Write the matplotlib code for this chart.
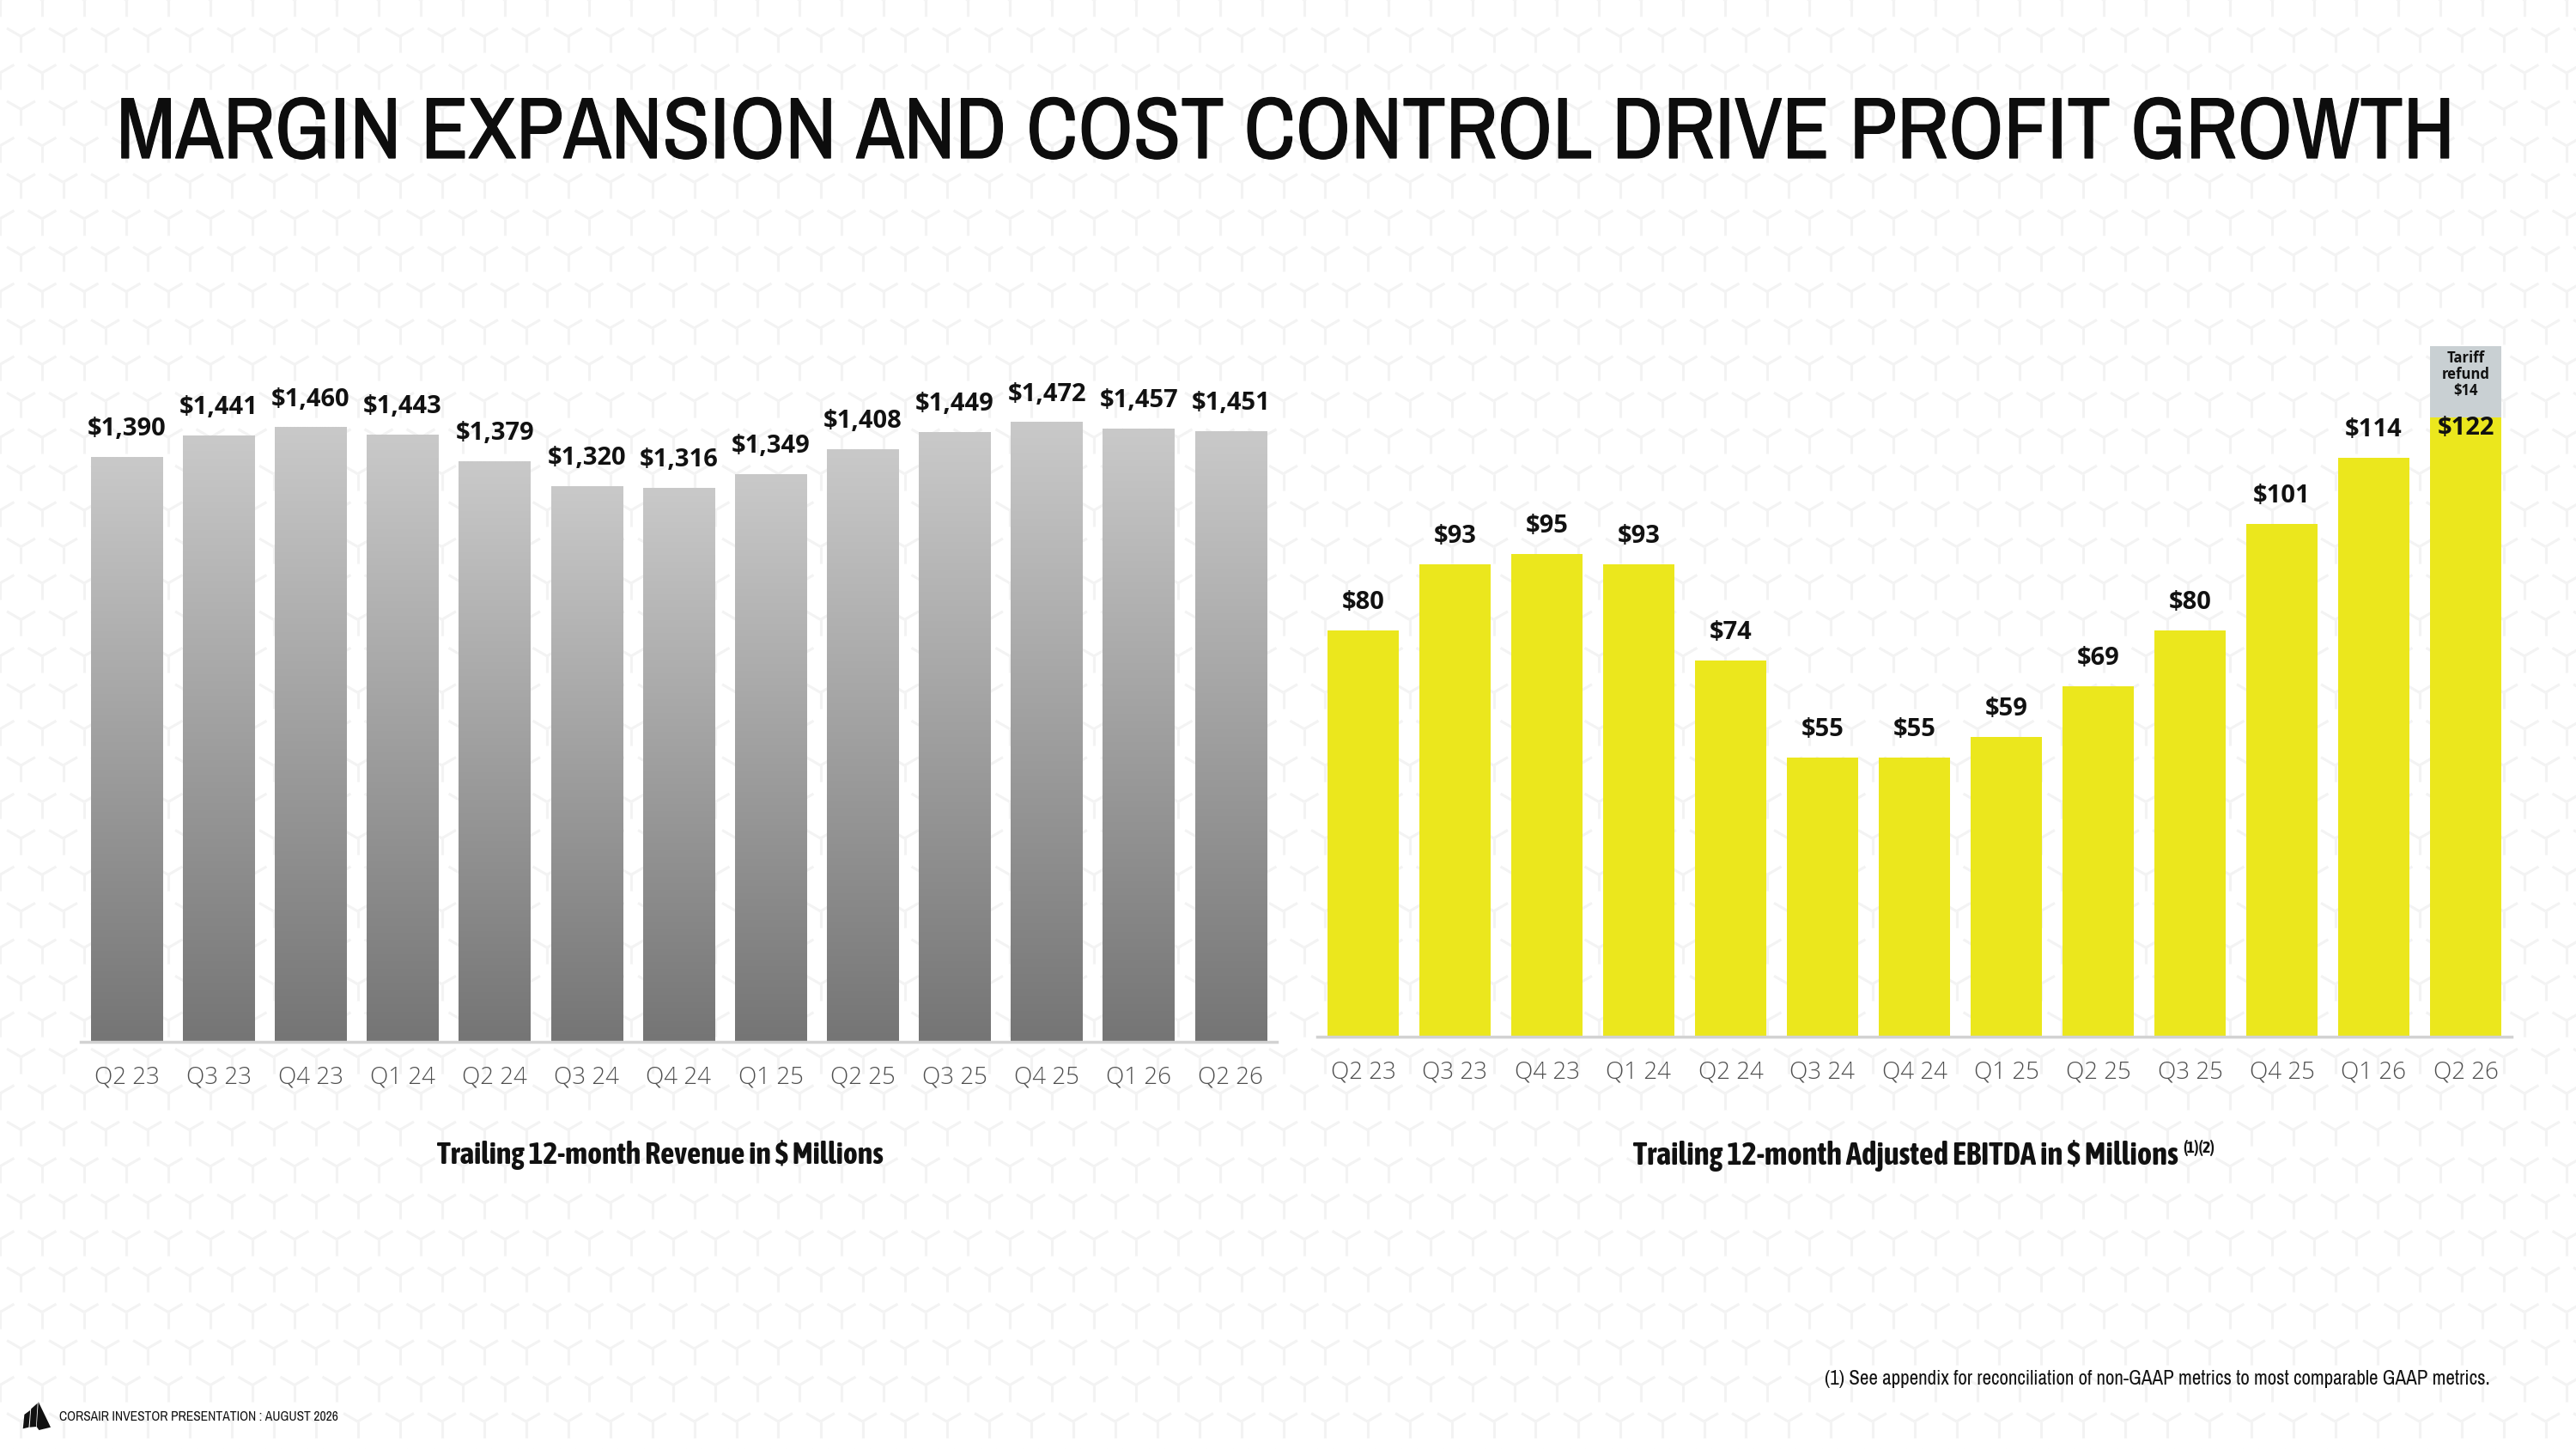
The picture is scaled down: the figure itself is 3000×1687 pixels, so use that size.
import numpy as np
import matplotlib
matplotlib.use("Agg")
import matplotlib.pyplot as plt
from matplotlib import font_manager as fm
from matplotlib import patheffects as pe
from matplotlib.colors import LinearSegmentedColormap
from matplotlib.patches import Polygon
from matplotlib.collections import LineCollection

# ---- data ----
quarters = ['Q2 23', 'Q3 23', 'Q4 23', 'Q1 24', 'Q2 24', 'Q3 24', 'Q4 24',
            'Q1 25', 'Q2 25', 'Q3 25', 'Q4 25', 'Q1 26', 'Q2 26']
revenue = [1390, 1441, 1460, 1443, 1379, 1320, 1316, 1349, 1408, 1449, 1472, 1457, 1451]
ebitda = [80, 93, 95, 93, 74, 55, 55, 59, 69, 80, 101, 114, 122]
tariff_refund = 14
tariff_quarter = 'Q2 26'

title = 'MARGIN EXPANSION AND COST CONTROL DRIVE PROFIT GROWTH'
rev_caption = 'Trailing 12-month Revenue in $ Millions'
ebitda_caption = 'Trailing 12-month Adjusted EBITDA in $ Millions'
ebitda_sup = '(1)(2)'
footnote = '(1) See appendix for reconciliation of non-GAAP metrics to most comparable GAAP metrics.'
footer = 'CORSAIR INVESTOR PRESENTATION : AUGUST 2026'

# ---- fonts ----
_wmap = {'thin': 100, 'extralight': 200, 'light': 300, 'normal': 400, 'regular': 400,
         'book': 400, 'medium': 500, 'semibold': 600, 'demibold': 600, 'bold': 700,
         'extrabold': 800, 'heavy': 800, 'black': 900}


def _w(w):
    if isinstance(w, str):
        return _wmap.get(w.lower().replace(' ', ''), 400)
    return int(w)


entries = fm.fontManager.ttflist
cond = [(f.name, _w(f.weight)) for f in entries
        if ('Condensed' in f.name or 'Narrow' in f.name) and f.style == 'normal']
cond.sort()
if cond:
    narrow = min(cond, key=lambda e: abs(e[1] - 400))[0]
    narrow_bold = min(cond, key=lambda e: abs(e[1] - 700))[0]
else:
    narrow = narrow_bold = 'Liberation Sans'
installed = {f.name for f in entries}
body = 'Open Sans' if 'Open Sans' in installed else 'DejaVu Sans'
plt.rcParams['font.family'] = [body, 'DejaVu Sans']

W, H = 3000, 1687
fig = plt.figure(figsize=(W / 100, H / 100), dpi=100)
fig.patch.set_facecolor('white')


def fx(px):
    return px / W


def fy(py):
    return 1 - py / H


def fit_width(t, width_px):
    # shrink/grow a text so it spans the same width as in the slide
    fig.canvas.draw()
    w = t.get_window_extent().width
    t.set_fontsize(t.get_fontsize() * width_px / w)


# faint Y pattern in the background
segs = []
dx = 49
dy = dx * np.sqrt(3) / 2
arm = 19
for j in range(int(H / dy) + 2):
    for i in range(int(W / dx) + 2):
        cx = i * dx + (j % 2) * dx / 2
        cy = j * dy
        for ang in (90, 210, 330):
            a = np.radians(ang)
            segs.append([(cx / W, 1 - cy / H),
                         ((cx + arm * np.cos(a)) / W, 1 - (cy + arm * np.sin(a)) / H)])
fig.add_artist(LineCollection(segs, colors='#f3f3f3', linewidths=2.2,
                              transform=fig.transFigure, zorder=-5))

yellow = '#ebe71d'
tariff_col = '#c9d0d3'
grey_cmap = LinearSegmentedColormap.from_list('g', ['#757575', '#c9c9c9'])
x = np.arange(len(quarters))
bw = 0.78

# ---- left: revenue ----
ax1 = fig.add_axes([fx(94), fy(1213), fx(1487) - fx(94), (1213 - 394) / H])
bars = ax1.bar(x, revenue, width=bw, color='#9a9a9a', zorder=2)
grad = np.linspace(0, 1, 256).reshape(-1, 1)
for b in bars:
    ax1.imshow(grad, extent=[b.get_x(), b.get_x() + b.get_width(), 0, b.get_height()],
               origin='lower', aspect='auto', cmap=grey_cmap, zorder=3)
for xi, v in zip(x, revenue):
    ax1.annotate(f'${v:,}', (xi, v), xytext=(0, 13), textcoords='offset points',
                 ha='center', va='bottom', fontsize=21, fontweight='bold', color='#111111')
ax1.set_xlim(-0.5, len(quarters) - 0.5)
ax1.set_ylim(0, 1672)

# ---- right: adjusted EBITDA ----
ax2 = fig.add_axes([fx(1534), fy(1207), fx(2925) - fx(1534), (1207 - 394) / H])
ax2.bar(x, ebitda, width=bw, color=yellow, zorder=2)
ti = quarters.index(tariff_quarter)
ax2.bar(ti, tariff_refund, bottom=ebitda[ti], width=bw, color=tariff_col, zorder=2)
for xi, v in zip(x, ebitda):
    if xi == ti:
        ax2.annotate(f'${v}', (xi, v), xytext=(0, 1), textcoords='offset points',
                     ha='center', va='top', fontsize=21, fontweight='bold', color='#111111')
    else:
        ax2.annotate(f'${v}', (xi, v), xytext=(0, 13), textcoords='offset points',
                     ha='center', va='bottom', fontsize=21, fontweight='bold', color='#111111')
ax2.annotate(f'Tariff\nrefund\n${tariff_refund}', (ti, ebitda[ti] + tariff_refund),
             xytext=(0, -4), textcoords='offset points', ha='center', va='top',
             fontsize=12, fontweight='bold', color='#111111', linespacing=1.05)
ax2.set_xlim(-0.5, len(quarters) - 0.5)
ax2.set_ylim(0, 137.5)

for ax in (ax1, ax2):
    ax.set_facecolor('none')
    for s in ('top', 'right', 'left'):
        ax.spines[s].set_visible(False)
    ax.spines['bottom'].set_color('#d2d2d2')
    ax.spines['bottom'].set_linewidth(2.5)
    ax.spines['bottom'].set_zorder(4)
    ax.set_yticks([])
    ax.set_xticks(x)
    ax.set_xticklabels(quarters, fontsize=20, color='#4f4f4f', fontweight='light')
    ax.tick_params(axis='x', length=0, pad=20)

# ---- texts ----
t = fig.text(fx(1498), fy(156), title, ha='center', va='center', fontsize=67,
             family=[narrow, 'DejaVu Sans'], color='#0d0d0d',
             path_effects=[pe.withStroke(linewidth=0.9, foreground='#0d0d0d')])
fit_width(t, 2722)
t = fig.text(fx(769), fy(1345), rev_caption, ha='center', va='center', fontsize=20,
             fontweight='bold', family=[narrow_bold, 'DejaVu Sans'], color='#111111')
fit_width(t, 520)
cap = fig.text(fx(2219), fy(1345), ebitda_caption, ha='center', va='center', fontsize=20,
               fontweight='bold', family=[narrow_bold, 'DejaVu Sans'], color='#111111')
fit_width(cap, 632)
fig.canvas.draw()
bb = cap.get_window_extent()
fig.text((bb.x1 + 6) / W, fy(1337), ebitda_sup, ha='left', va='center', fontsize=14,
         fontweight='bold', family=[narrow_bold, 'DejaVu Sans'], color='#111111')
t = fig.text(fx(2900), fy(1605), footnote, ha='right', va='center', fontsize=14.5,
             family=[narrow, 'DejaVu Sans'], color='#111111')
fit_width(t, 776)
t = fig.text(fx(69), fy(1649), footer, ha='left', va='center', fontsize=10,
             family=[narrow, 'DejaVu Sans'], color='#111111')
fit_width(t, 325)

# small sails logo
logo = [
    [(0.05, 0.05), (0.10, 0.55), (0.30, 0.70), (0.25, 0.10)],
    [(0.28, 0.10), (0.33, 0.75), (0.55, 0.95), (0.50, 0.12)],
    [(0.52, 0.12), (0.58, 1.00), (1.00, 0.10), (0.60, 0.00)],
]
for pts in logo:
    poly = [(fx(25 + px * 34), fy(1665 - py * 33)) for px, py in pts]
    fig.patches.append(Polygon(poly, closed=True, transform=fig.transFigure,
                               facecolor='#111111', edgecolor='none'))

fig.savefig('out.png', dpi=100, facecolor='white')
